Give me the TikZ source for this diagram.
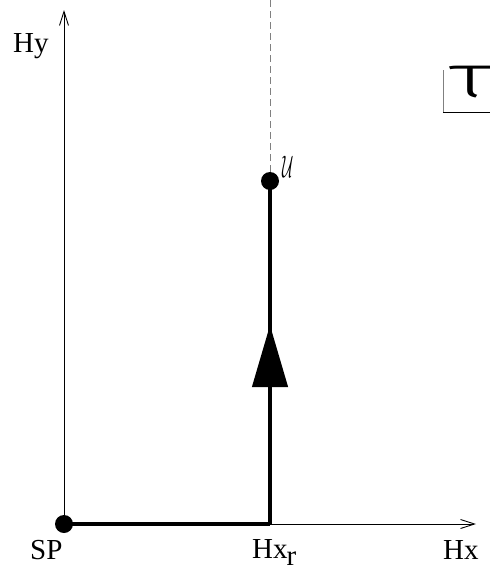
\documentclass[tikz,border=0pt]{standalone}
\usepackage{fontspec}
\setmainfont{Liberation Serif}
\newfontfamily\symfont[UprightFont=* Light]{Fira Sans}
\usetikzlibrary{positioning,arrows.meta,decorations.markings}

\tikzset{
  axis/.style={line width=0.9pt, -{Straight Barb[length=14pt,width=9pt]}},
  path line/.style={line width=4.5pt},
  dot/.style={circle, fill, inner sep=0pt, minimum size=18pt},
  lbl/.style={font=\fontsize{29}{31}\selectfont, inner sep=0pt, anchor=base west},
}

\begin{document}
\begin{tikzpicture}[x=1pt, y=-1pt]
        \useasboundingbox (0,0) rectangle (490,571);
        % axes
        \coordinate (o) at (64,524);
        \coordinate (hytip) at (64,10);
        \coordinate (hxtip) at (476,524);
        \draw[axis] (o) -- (hytip);
        \draw[axis] (o) -- (hxtip);
        % points
        \node[dot] (sp) at (64,524) {};
        \coordinate (hxr) at (270,524);
        \node[dot] (u) at (270,181) {};
        \coordinate (top) at (270,0);
        \draw[dashed, gray, line width=0.8pt, dash pattern=on 7pt off 4pt] (u) -- (top);
        \draw[path line] (sp.center) -- (hxr);
        \draw[path line, decoration={markings, mark=at position 0.58 with {\arrow{Triangle[length=62pt,width=35pt]}}}, postaction={decorate}] (hxr) -- (u.center);
        % labels
        \node[lbl] (hy) at (13,52) {Hy};
        \node[lbl] (splbl) at (30,559) {SP};
        \node[lbl] (hxrlbl) at (252,558) {Hx\kern-1pt\raisebox{-7pt}{r}};
        \node[lbl] (hxlbl) at (443,559) {Hx};
        \node[inner sep=0pt, anchor=north west] (ulbl) at (282,156) {\scalebox{0.75}[1.5]{\fontsize{20}{22}\selectfont$\mathcal{U}$}};
        % tau box
        \coordinate (boxtl) at (443,70);
        \coordinate (boxbl) at (443,112);
        \coordinate (boxbr) at (490,112);
        \draw[gray, line width=1pt] (boxtl) -- (boxbl);
        \draw[line width=1pt] (boxbl) -- (boxbr);
        \node[inner sep=0pt, anchor=base west] (tau) at (449,97) {\scalebox{1.6}[1]{\symfont\fontsize{60}{62}\selectfont τ}};
\end{tikzpicture}
\end{document}
